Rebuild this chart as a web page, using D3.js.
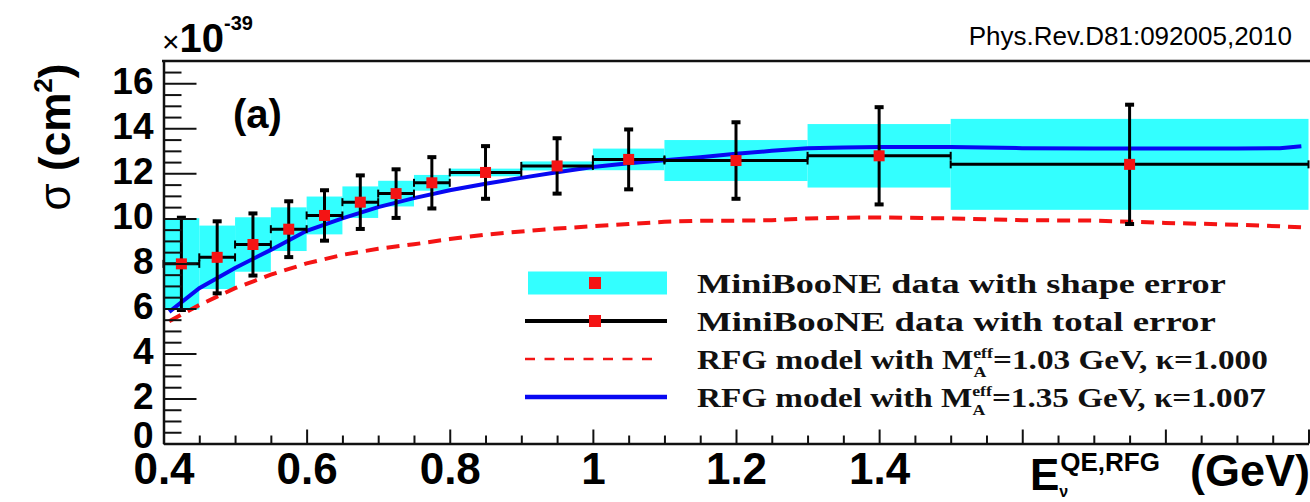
<!DOCTYPE html>
<html>
<head>
<meta charset="utf-8">
<script src="https://cdn.jsdelivr.net/npm/d3@7"></script>
<style>
body { margin: 0; background: #fff; }
svg { display: block; font-family: "Liberation Sans", Arial, sans-serif; }
.axis text { font-weight: bold; fill: #000; }
.legend text { font-family: "Liberation Serif", "Times New Roman", serif; font-weight: bold; fill: #111; }
</style>
</head>
<body>
<svg id="chart" width="1310" height="502"></svg>
<script>
// MiniBooNE CCQE cross section, units of 1e-39 cm^2
var binLo = [0.40, 0.45, 0.50, 0.55, 0.60, 0.65, 0.70, 0.75, 0.80, 0.90, 1.00, 1.10, 1.30, 1.50];
var binHi = [0.45, 0.50, 0.55, 0.60, 0.65, 0.70, 0.75, 0.80, 0.90, 1.00, 1.10, 1.30, 1.50, 2.00];
var xsec = [7.98, 8.27, 8.84, 9.52, 10.13, 10.72, 11.10, 11.58, 12.04, 12.33, 12.62, 12.57, 12.78, 12.40];
var totalErr = [2.05, 1.60, 1.38, 1.24, 1.12, 1.19, 1.08, 1.14, 1.17, 1.23, 1.33, 1.70, 2.16, 2.65];
var shapeErr = [2.03, 1.41, 1.21, 0.97, 0.84, 0.70, 0.57, 0.35, 0.17, 0.20, 0.48, 0.91, 1.41, 2.02];

// RFG model curves
var modelE = [0.408, 0.45, 0.5, 0.55, 0.6, 0.65, 0.7, 0.75, 0.8, 0.85, 0.9, 0.95, 1.0, 1.05,
	1.1, 1.15, 1.2, 1.25, 1.3, 1.35, 1.4, 1.5, 1.6, 1.7, 1.8, 1.9, 1.96, 1.99];
var rfg103 = [5.43, 6.15, 6.9, 7.5, 8.0, 8.38, 8.65, 8.85, 9.08, 9.28, 9.42, 9.55, 9.65, 9.75,
	9.85, 9.9, 9.9, 9.92, 10.0, 10.03, 10.04, 10.0, 9.92, 9.9, 9.8, 9.72, 9.65, 9.6];
var rfg135 = [5.85, 6.9, 7.8, 8.6, 9.45, 10.0, 10.5, 10.9, 11.25, 11.54, 11.8, 12.05, 12.28, 12.45,
	12.58, 12.72, 12.87, 13.0, 13.12, 13.15, 13.17, 13.17, 13.12, 13.1, 13.1, 13.1, 13.12, 13.2];

var xMajor = [0.4, 0.6, 0.8, 1.0, 1.2, 1.4, 1.6, 1.8, 2.0];
var xLabels = [0.4, 0.6, 0.8, 1, 1.2, 1.4];
var yMajor = [0, 2, 4, 6, 8, 10, 12, 14, 16];

var legendLabels = ["MiniBooNE data with shape error", "MiniBooNE data with total error"];
var modelLabels = ["=1.03 GeV, \u03BA=1.000", "=1.35 GeV, \u03BA=1.007"];

var cyan = "#33ffff", red = "#f41414", blue = "#0808f2";

var svg = d3.select("#chart");
var x = d3.scaleLinear().domain([0.4, 2.0]).range([163.5, 1308.5]);
var y = d3.scaleLinear().domain([0, 17]).range([443.5, 60.8]);

// header texts
svg.append("text").attr("x", 1292).attr("y", 45).attr("text-anchor", "end")
	.style("font-size", "26px").text("Phys.Rev.D81:092005,2010");

var expo = svg.append("text").attr("x", 162).attr("y", 52);
expo.append("tspan").style("font-size", "30px").text("\u00D7");
expo.append("tspan").style("font-size", "40px").style("font-weight", "bold").text("10");
expo.append("tspan").attr("dy", -22).style("font-size", "20px").style("font-weight", "bold").text("-39");

// cyan shape error boxes
svg.append("g").selectAll("rect").data(xsec).enter().append("rect")
	.attr("x", function(d, i) { return x(binLo[i]); })
	.attr("width", function(d, i) { return x(binHi[i]) - x(binLo[i]); })
	.attr("y", function(d, i) { return y(d + shapeErr[i]); })
	.attr("height", function(d, i) { return y(d - shapeErr[i]) - y(d + shapeErr[i]); })
	.attr("fill", cyan);

// model curves
var line = d3.line().x(function(d, i) { return x(modelE[i]); }).y(function(d) { return y(d); });
svg.append("path").datum(rfg103).attr("d", line).attr("fill", "none")
	.attr("stroke", red).attr("stroke-width", 4).attr("stroke-dasharray", "13,8");
svg.append("path").datum(rfg135).attr("d", line).attr("fill", "none")
	.attr("stroke", blue).attr("stroke-width", 4);

// total error bars
var bars = svg.append("g").selectAll("g").data(xsec).enter().append("g");
bars.append("line")
	.attr("x1", function(d, i) { return x(binLo[i]); })
	.attr("x2", function(d, i) { return x(binHi[i]); })
	.attr("y1", function(d) { return y(d); })
	.attr("y2", function(d) { return y(d); })
	.attr("stroke", "#000").attr("stroke-width", 3);
[binLo, binHi].forEach(function(edge) {
	bars.append("line")
		.attr("x1", function(d, i) { return x(edge[i]); })
		.attr("x2", function(d, i) { return x(edge[i]); })
		.attr("y1", function(d) { return y(d) - 4; })
		.attr("y2", function(d) { return y(d) + 4; })
		.attr("stroke", "#000").attr("stroke-width", 2);
});
function center(i) { return x((binLo[i] + binHi[i]) / 2); }
bars.append("line")
	.attr("x1", function(d, i) { return center(i); })
	.attr("x2", function(d, i) { return center(i); })
	.attr("y1", function(d, i) { return y(d + totalErr[i]); })
	.attr("y2", function(d, i) { return y(d - totalErr[i]); })
	.attr("stroke", "#000").attr("stroke-width", 3);
[1, -1].forEach(function(s) {
	bars.append("rect")
		.attr("x", function(d, i) { return center(i) - 4.5; })
		.attr("y", function(d, i) { return y(d + s * totalErr[i]) - 2; })
		.attr("width", 9).attr("height", 4).attr("fill", "#000");
});
bars.append("rect")
	.attr("x", function(d, i) { return center(i) - 5.5; })
	.attr("y", function(d) { return y(d) - 5.5; })
	.attr("width", 11).attr("height", 11).attr("fill", red);

// axes
var yAxis = svg.append("g").attr("class", "axis").attr("transform", "translate(163.5,0)")
	.call(d3.axisLeft(y).tickValues(yMajor).tickSizeInner(-33).tickSizeOuter(0).tickPadding(10)
		.tickFormat(d3.format("d")));
svg.append("g").attr("transform", "translate(163.5,0)")
	.call(d3.axisLeft(y).tickValues(d3.range(0.5, 17, 0.5).filter(function(v) { return v % 2 !== 0; }))
		.tickSizeInner(-18).tickSizeOuter(0).tickFormat(""))
	.call(function(g) { g.select(".domain").remove(); });

var xAxis = svg.append("g").attr("class", "axis").attr("transform", "translate(0,443.5)")
	.call(d3.axisBottom(x).tickValues(xMajor).tickSizeInner(-14).tickSizeOuter(0).tickPadding(9)
		.tickFormat(function(d) { return xLabels.indexOf(+d.toFixed(1)) >= 0 ? d3.format("")(+d.toFixed(1)) : ""; }));
svg.append("g").attr("transform", "translate(0,443.5)")
	.call(d3.axisBottom(x).tickValues(d3.range(0.45, 2.0, 0.05).filter(function(v) {
			return Math.abs(v * 5 - Math.round(v * 5)) > 1e-6; }))
		.tickSizeInner(-8).tickSizeOuter(0).tickFormat(""))
	.call(function(g) { g.select(".domain").remove(); });

svg.selectAll(".tick line").attr("stroke", "#111").attr("stroke-width", 2);
svg.selectAll(".domain").attr("stroke", "#111").attr("stroke-width", 2.5);
yAxis.selectAll("text").style("font-size", "37px")
	.attr("dy", function(d) { return d === 0 ? "4px" : "10px"; });
xAxis.selectAll("text").style("font-size", "44px");

// top frame line
svg.append("line").attr("x1", 162).attr("x2", 1310).attr("y1", 61).attr("y2", 61)
	.attr("stroke", "#111").attr("stroke-width", 2.5);

// axis titles
var yTitle = svg.append("text").attr("transform", "translate(70,137) rotate(-90)")
	.attr("text-anchor", "middle").style("font-size", "44px");
yTitle.append("tspan").text("\u03C3 ");
yTitle.append("tspan").style("font-weight", "bold").text("(cm");
yTitle.append("tspan").attr("dy", -18).style("font-size", "26px").style("font-weight", "bold").text("2");
yTitle.append("tspan").attr("dy", 18).style("font-weight", "bold").text(")");

var xTitle = svg.append("text").attr("x", 1030).attr("y", 490).style("font-weight", "bold");
xTitle.append("tspan").style("font-size", "44px").text("E");
xTitle.append("tspan").attr("dy", 7).style("font-size", "16px").text("\u03BD");
xTitle.append("tspan").attr("dx", -8).attr("dy", -26).style("font-size", "26px").text("QE,RFG");
svg.append("text").attr("x", 1190).attr("y", 486).style("font-weight", "bold")
	.style("font-size", "45px").text("(GeV)");

svg.append("text").attr("x", 233).attr("y", 128).style("font-weight", "bold")
	.style("font-size", "40px").text("(a)");

// legend
var legend = svg.append("g").attr("class", "legend");
var rowY = [283, 321, 359, 397];
var rowRight = [1226, 1216, 1268, 1266];

legend.append("rect").attr("x", 528).attr("y", rowY[0] - 11.5).attr("width", 139).attr("height", 23).attr("fill", cyan);
legend.append("line").attr("x1", 525).attr("x2", 667).attr("y1", rowY[1]).attr("y2", rowY[1])
	.attr("stroke", "#000").attr("stroke-width", 4);
[rowY[0], rowY[1]].forEach(function(ry) {
	legend.append("rect").attr("x", 589).attr("y", ry - 6).attr("width", 12).attr("height", 12).attr("fill", red);
});
legend.append("line").attr("x1", 525).attr("x2", 657).attr("y1", rowY[2]).attr("y2", rowY[2])
	.attr("stroke", red).attr("stroke-width", 2.5).attr("stroke-dasharray", "10,9.5");
legend.append("line").attr("x1", 525).attr("x2", 667).attr("y1", rowY[3]).attr("y2", rowY[3])
	.attr("stroke", blue).attr("stroke-width", 4.5);

function fitRow(t, i) {
	var w = t.node().getBBox().width;
	t.attr("transform", "translate(697," + (rowY[i] + 9.5) + ") scale(" + ((rowRight[i] - 697) / w) + ",1)");
}

legendLabels.forEach(function(lbl, i) {
	var t = legend.append("text").style("font-size", "28px").text(lbl);
	fitRow(t, i);
});
modelLabels.forEach(function(lbl, k) {
	var t = legend.append("text").style("font-size", "28px");
	t.append("tspan").text("RFG model with M");
	t.append("tspan").attr("dy", 8).style("font-size", "15px").text("A");
	t.append("tspan").attr("dx", -11).attr("dy", -19).style("font-size", "15px").text("eff");
	t.append("tspan").attr("dy", 11).text(lbl);
	fitRow(t, k + 2);
});
</script>
</body>
</html>
